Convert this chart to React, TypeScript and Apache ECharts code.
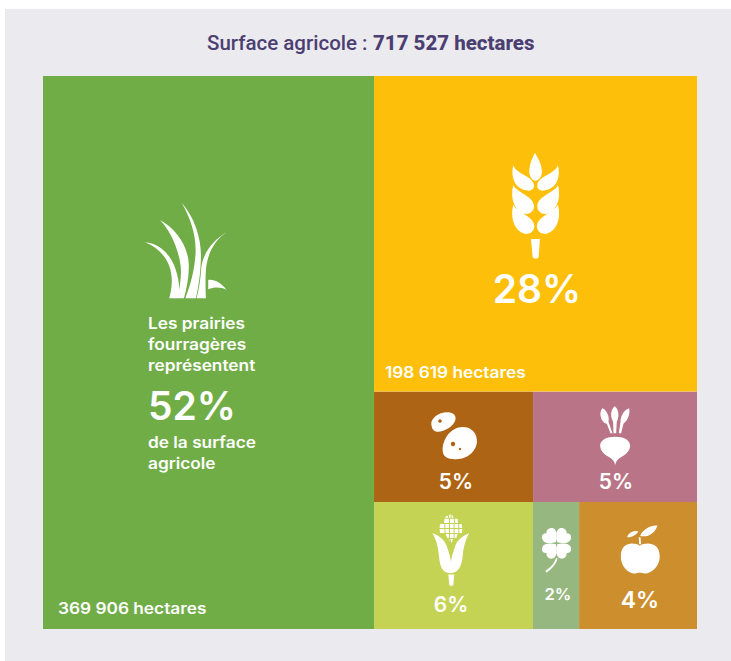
import React, { useEffect, useRef } from "react";
import * as echarts from "echarts";

// Surface shares (% of the drawn area)
const prairieShare = 50.6;
const cerealShare = 28.2;
const potatoShare = 4.84;
const beetShare = 4.99;
const cornShare = 5.58;
const cloverShare = 1.62;
const fruitShare = 4.14;

const titleRegular = "Surface agricole :";
const titleBold = "717 527 hectares";
const prairieLines = ["Les prairies", "fourragères", "représentent"];
const prairieTail = ["de la surface", "agricole"];
const percentLabels = ["52%", "28%", "5%", "5%", "6%", "2%", "4%"];
const hectareLabels = ["369 906 hectares", "198 619 hectares"];

const COLORS = {
  panel: "#ebeaef",
  title: "#4b3f72",
  prairie: "#70ad47",
  cereal: "#fdbf0a",
  potato: "#ae6415",
  beet: "#b97587",
  corn: "#c5d354",
  clover: "#96b77f",
  fruit: "#cd8e2e",
};

const ICON_PATHS: Record<string, string> = {
  iconGrass:
    "M75,157 C115,160 150,190 166,235 C174,258 178,280 178,300 C182,270 186,245 180,215 C172,170 150,120 120,90 C165,115 200,160 206,215 C209,250 202,290 192,325 L148,325 C158,290 158,255 148,228 C135,195 110,170 75,157 Z " +
    "M185,38 C222,80 243,140 243,195 C243,245 236,290 228,325 L196,325 C212,285 224,240 227,190 C229,135 212,85 185,38 Z " +
    "M320,127 C285,150 262,190 258,240 C256,270 257,300 258,325 L230,325 C238,295 242,265 244,235 C248,190 280,150 320,127 Z " +
    "M265,270 C285,268 305,280 320,300 C305,292 285,290 265,298 Z",
  iconWheat:
    "M135,38 C145,55 156,75 156,95 C156,110 146,122 137,122 C127,122 118,110 118,95 C118,75 126,55 135,38 Z " +
    "M70,76 C78,102 128,108 132,135 C133,147 125,153 113,152 C78,150 60,115 70,76 Z " +
    "M204,76 C196,102 146,108 142,135 C141,147 149,153 161,152 C196,150 214,115 204,76 Z " +
    "M70,135 C80,158 130,168 132,197 C133,212 122,222 108,222 C78,218 58,180 70,135 Z " +
    "M204,135 C194,158 144,168 142,197 C141,212 152,222 166,222 C196,218 216,180 204,135 Z " +
    "M70,194 C80,218 130,228 133,257 C134,272 122,282 108,282 C78,278 58,240 70,194 Z " +
    "M204,194 C194,218 144,228 141,257 C140,272 152,282 166,282 C196,278 216,240 204,194 Z " +
    "M123,297 L150,297 L146,351 Q145,356 137,356 Q129,356 128,351 Z",
  iconPotato:
    "M34,88 C32,70 58,50 85,52 C100,53 110,62 106,76 C100,95 72,112 50,110 C40,109 35,100 34,88 Z " +
    "M68,165 C68,130 95,96 128,96 C155,96 172,115 171,140 C170,170 140,195 105,193 C82,192 68,185 68,165 Z",
  iconBeet:
    "M586,210 C584,200 578,192 565,185 C550,177 541,165 541,152 C541,135 560,125 586,125 C612,125 631,135 631,152 C631,165 622,177 607,185 C594,192 588,200 586,210 Z " +
    "M572,115 L578,115 L566,80 C570,65 560,45 548,40 C538,50 540,72 554,84 L561,86 Z " +
    "M581,115 L589,115 L591,80 C600,65 596,42 585,34 C573,42 570,65 580,80 Z " +
    "M597,115 L604,115 L611,86 C624,78 632,55 628,40 C615,44 602,60 602,82 Z",
  iconCorn:
    "M37,85 C55,90 72,103 80,122 C86,140 91,155 93,170 C95,155 100,140 106,122 C112,105 130,92 147,85 C135,108 130,130 128,155 C125,185 115,205 91,205 C67,205 60,185 57,155 C55,130 50,105 37,85 Z " +
    "M85,209 L103,209 L100,240 Q94,246 88,240 Z " +
    "M74,41 L87,41 L87,54 L72,54 Z M90,41 L101,41 L103,54 L90,54 Z M104,41 L113,41 L114,54 L106,54 Z M87,30 L92,28 L92,38 L87,38 Z M97,30 L101,38 L95,38 L95,28 Z M78,33 L84,33 L84,38 L76,38 Z " +
    "M60,57 L73,57 L73,69 L59,69 Z M76,57 L87,57 L87,69 L76,69 Z M90,57 L101,57 L101,69 L90,69 Z M104,57 L115,57 L115,69 L104,69 Z M118,57 L125,57 L127,69 L118,69 Z " +
    "M59,72 L73,72 L74,84 L60,84 Z M76,72 L87,72 L87,84 L77,84 Z M90,72 L101,72 L101,84 L90,84 Z M104,72 L115,72 L115,84 L104,84 Z M118,72 L127,72 L126,84 L118,84 Z " +
    "M77,87 L87,87 L87,99 L82,99 Z M90,87 L101,87 L101,99 L90,99 Z M104,87 L113,87 L109,99 L104,99 Z M86,104 L88,102 L88,110 Z M91,102 L99,102 L95,115 Z",
  iconClover:
    "M408,112 C395,115 372,118 367,102 C363,90 372,85 380,85 C378,74 390,66 400,70 C412,74 412,95 408,112 Z " +
    "M412,112 C425,115 448,118 453,102 C457,90 448,85 440,85 C442,74 430,66 420,70 C408,74 408,95 412,112 Z " +
    "M408,118 C395,115 372,112 367,128 C363,140 372,145 380,145 C378,156 390,164 400,160 C412,156 412,135 408,118 Z " +
    "M412,118 C425,115 448,112 453,128 C457,140 448,145 440,145 C442,156 430,164 420,160 C408,156 408,135 412,118 Z " +
    "M408,160 L413,160 C410,178 395,192 380,203 L376,198 C392,188 404,175 408,160 Z",
  iconApple:
    "M660,122 C675,112 720,108 720,155 C720,185 695,206 675,206 C668,206 664,203 660,203 C656,203 652,206 645,206 C625,206 603,185 603,155 C603,108 645,112 660,122 Z " +
    "M657,97 L662,97 L664,118 L658,118 Z " +
    "M661,93 C670,72 695,60 713,62 C705,85 685,98 661,93 Z " +
    "M622,97 C625,85 640,76 656,79 C650,90 636,98 622,97 Z",
};

function iconElement(name: string, x: number, y: number, fill: string) {
  return { type: name, silent: true, z: 20, x, y, scaleX: 1 / 3, scaleY: 1 / 3, style: { fill } };
}

function spot(cx: number, cy: number, r: number) {
  return { type: "circle", silent: true, z: 21, shape: { cx, cy, r }, style: { fill: COLORS.potato } };
}

function label(
  text: string,
  x: number,
  y: number,
  fontSize: number,
  fontWeight: number,
  textAlign = "left",
  fill = "#ffffff",
  fontFamily = "Inter",
  scaleX = 1
) {
  return {
    type: "text",
    silent: true,
    z: 20,
    x,
    y,
    scaleX,
    style: { text, fill, fontSize, fontWeight, fontFamily, textAlign, textVerticalAlign: "middle" },
  };
}

function bodyLabel(text: string, x: number, y: number) {
  return label(text, x, y, 15.5, 600, "left", "#ffffff", "Inter", 1.115);
}

export default function App() {
  const ref = useRef<HTMLDivElement>(null);

  useEffect(() => {
    document.body.style.margin = "0";
    Object.keys(ICON_PATHS).forEach((k) => {
      echarts.graphic.registerShape(k, echarts.graphic.extendPath(ICON_PATHS[k], {}));
    });
    const chart = echarts.init(ref.current!, null, { renderer: "svg" });
    const leaf = (name: string, value: number, color: string) => ({
      name,
      value,
      itemStyle: { color },
    });
    const flat = { itemStyle: { borderWidth: 0, gapWidth: 0 } };
    chart.setOption({
      animation: false,
      backgroundColor: "#ffffff",
      tooltip: { show: false },
      series: [
        {
          type: "treemap",
          z: 5,
          left: 43,
          top: 76,
          width: 654,
          height: 553,
          roam: false,
          nodeClick: false,
          sort: false,
          squareRatio: 1,
          breadcrumb: { show: false },
          label: { show: false },
          upperLabel: { show: false },
          itemStyle: { borderWidth: 0, gapWidth: 0 },
          levels: [flat, flat, flat, flat, flat],
          data: [
            leaf("Prairies fourragères", prairieShare, COLORS.prairie),
            {
              name: "Autres cultures",
              children: [
                {
                  name: "Céréales et tubercules",
                  children: [
                    leaf("Céréales", cerealShare, COLORS.cereal),
                    {
                      name: "Pommes de terre et betteraves",
                      children: [
                        leaf("Pommes de terre", potatoShare, COLORS.potato),
                        leaf("Betteraves", beetShare, COLORS.beet),
                      ],
                    },
                  ],
                },
                {
                  name: "Maïs, trèfle, fruits",
                  children: [
                    leaf("Maïs", cornShare, COLORS.corn),
                    leaf("Trèfle", cloverShare, COLORS.clover),
                    leaf("Fruits", fruitShare, COLORS.fruit),
                  ],
                },
              ],
            },
          ],
        },
      ],
      graphic: {
        elements: [
          {
            type: "rect",
            silent: true,
            z: -10,
            shape: { x: 5, y: 9, width: 726, height: 652 },
            style: { fill: COLORS.panel },
          },
          label(titleRegular, 207, 42.5, 20.5, 500, "left", COLORS.title, "Roboto"),
          label(titleBold, 373, 42.5, 20.5, 800, "left", COLORS.title, "Roboto"),
          iconElement("iconGrass", 120, 190, "#ffffff"),
          iconElement("iconWheat", 490, 140, "#ffffff"),
          iconElement("iconPotato", 420, 395, "#ffffff"),
          iconElement("iconBeet", 420, 395, "#ffffff"),
          iconElement("iconCorn", 420, 505, "#ffffff"),
          iconElement("iconClover", 420, 505, "#ffffff"),
          iconElement("iconApple", 420, 505, "#ffffff"),
          spot(440, 421, 1.8),
          spot(453, 444, 2.2),
          spot(460, 449, 1.2),
          bodyLabel(prairieLines[0], 148, 323.5),
          bodyLabel(prairieLines[1], 148, 344.5),
          bodyLabel(prairieLines[2], 148, 365.5),
          label(percentLabels[0], 148, 405, 39, 600),
          bodyLabel(prairieTail[0], 148, 442.5),
          bodyLabel(prairieTail[1], 148, 463.5),
          bodyLabel(hectareLabels[0], 58, 608.5),
          label(percentLabels[1], 537, 288, 39, 600, "center"),
          bodyLabel(hectareLabels[1], 385, 372.5),
          label(percentLabels[2], 456, 481, 21, 600, "center"),
          label(percentLabels[3], 616, 481, 21, 600, "center"),
          label(percentLabels[4], 451, 604, 21, 600, "center"),
          label(percentLabels[5], 558, 594, 16.5, 600, "center"),
          label(percentLabels[6], 640, 600, 23, 600, "center"),
        ],
      },
    });
    return () => chart.dispose();
  }, []);

  return <div ref={ref} style={{ width: 731, height: 661 }} />;
}
